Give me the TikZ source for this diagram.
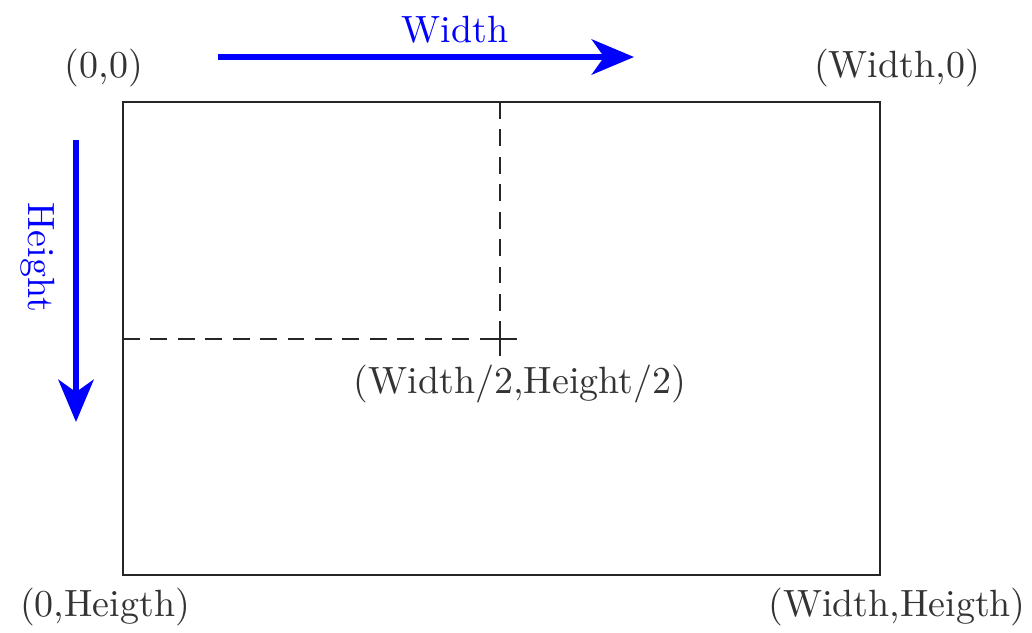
\documentclass[tikz,border=0pt]{standalone}
\usetikzlibrary{arrows.meta}
\begin{document}
\begin{tikzpicture}[x=0.01cm,y=-0.01cm,
  lbl/.style={text=black!80, font=\fontsize{10.8}{13}\selectfont, inner sep=0pt},
  bluelbl/.style={text=blue, font=\fontsize{10.8}{13}\selectfont, inner sep=0pt},
  axis/.style={blue, line width=1.8pt, -{Stealth[length=12pt,width=10pt,inset=3.5pt]}},
  frame/.style={draw=black!85, line width=0.7pt},
  guide/.style={draw=black!85, line width=0.7pt, dash pattern=on 4.8pt off 3pt},
  cross/.style={draw=black!85, line width=0.7pt}]
\useasboundingbox (0,0) rectangle (1032,632);
% corners and centre
\coordinate (tl) at (123,102);
\coordinate (tr) at (880,102);
\coordinate (bl) at (123,575);
\coordinate (br) at (880,575);
\coordinate (tm) at (500,102);
\coordinate (lm) at (123,339);
\coordinate (c) at (500,339);
% frame
\draw[frame] (tl) rectangle (br);
% guides
\draw[guide] (tm) -- (c);
\draw[guide] (lm) -- (c);
% cross
\coordinate (cw) at (483,339);
\coordinate (ce) at (517,339);
\coordinate (cn) at (500,322);
\coordinate (cs) at (500,356);
\draw[cross] (cw) -- (ce);
\draw[cross] (cn) -- (cs);
% axes
\coordinate (wa) at (218,57);
\coordinate (wb) at (634,57);
\draw[axis] (wa) -- (wb);
\coordinate (ha) at (76,140);
\coordinate (hb) at (76,422);
\draw[axis] (ha) -- (hb);
% labels
\node[bluelbl] (wlbl) at (455,30) {Width};
\node[bluelbl, rotate=-90] (hlbl) at (38,257) {Height};
\node[lbl] (p00) at (104,68) {(0,0)};
\node[lbl] (pw0) at (897,68) {(Width,0)};
\node[lbl] (pc) at (520,384) {(Width/2,Height/2)};
\node[lbl] (p0h) at (105,607) {(0,Heigth)};
\node[lbl] (pwh) at (897,607) {(Width,Heigth)};
\end{tikzpicture}
\end{document}
